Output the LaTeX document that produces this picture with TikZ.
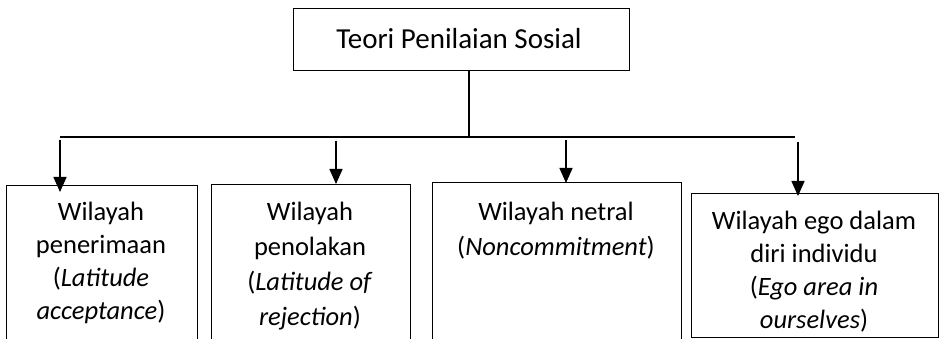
\documentclass[tikz,border=0pt]{standalone}
\usepackage{fontspec}
\setmainfont{Carlito}
\usetikzlibrary{arrows.meta}
\begin{document}
\begin{tikzpicture}[x=1pt,y=-1pt,
  box/.style={draw,line width=1.1pt,inner sep=0pt,anchor=north west},
  lbl/.style={align=center,font=\fontsize{26.5}{33}\selectfont,inner sep=0pt,anchor=north},
  wide/.style={font=\fontsize{26.5}{35}\selectfont},
  conn/.style={line width=1.3pt},
  arr/.style={line width=1.5pt,-{Triangle[length=15pt,width=13pt]}}]
\useasboundingbox (0,0) rectangle (940,339);
\clip (0,0) rectangle (940,339);
% top box
\node[box,minimum width=336pt,minimum height=62pt] (top) at (293,8) {};
\node[font=\fontsize{29}{35}\selectfont,inner sep=0pt] (toptxt) at (459,39) {Teori Penilaian Sosial};
% lower boxes
\node[box,minimum width=191pt,minimum height=200pt] (b1) at (6,185) {};
\node[box,minimum width=199pt,minimum height=200pt] (b2) at (211,184) {};
\node[box,minimum width=249pt,minimum height=200pt] (b3) at (432,182) {};
\node[box,minimum width=247pt,minimum height=144pt] (b4) at (691,193) {};
% texts
\node[lbl] (t1) at (101,201.5) {Wilayah\\penerimaan\\(\textit{Latitude}\\\textit{acceptance})};
\node[lbl,wide] (t2) at (310,202) {Wilayah\\penolakan\\(\textit{Latitude of}\\\textit{rejection})};
\node[lbl,wide] (t3) at (556,201.5) {Wilayah netral\\(\textit{Noncommitment})};
\node[lbl] (t4) at (814,211) {Wilayah ego dalam\\diri individu\\(\textit{Ego area in}\\\textit{ourselves})};
% connectors
\coordinate (j) at (469,137);
\coordinate (hl) at (60,137);
\coordinate (hr) at (795,137);
\draw[conn] (top.south -| j) -- (j);
\draw[conn] (hl) -- (hr);
\coordinate (s1) at (60,140);  \coordinate (e1) at (60,192);
\coordinate (s2) at (336,141); \coordinate (e2) at (336,184);
\coordinate (s3) at (566,140); \coordinate (e3) at (566,183);
\coordinate (s4) at (798,142); \coordinate (e4) at (798,196);
\draw[arr] (s1) -- (e1);
\draw[arr] (s2) -- (e2);
\draw[arr] (s3) -- (e3);
\draw[arr] (s4) -- (e4);
\end{tikzpicture}
\end{document}
